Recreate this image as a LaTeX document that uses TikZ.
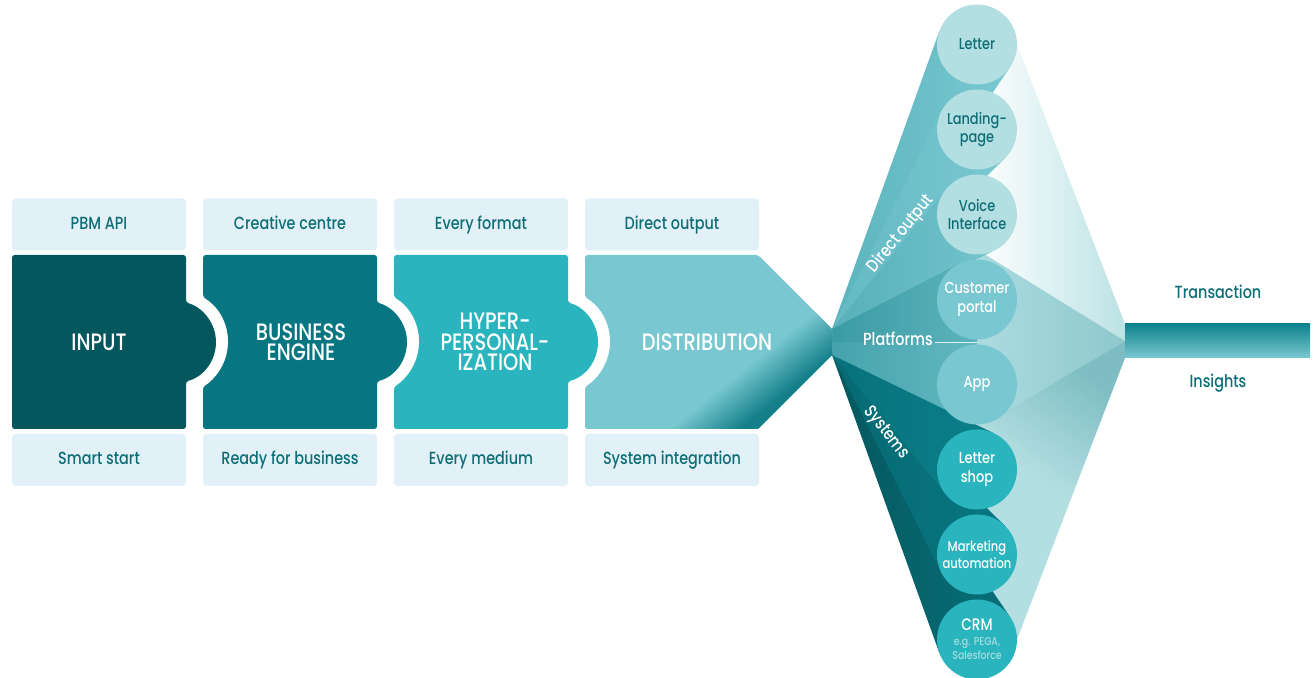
\documentclass[tikz,border=0pt]{standalone}
\usepackage{fontspec}
\setmainfont[FakeStretch=0.82,UprightFont={* Medium}]{Poppins}
\usetikzlibrary{backgrounds}

\definecolor{inputc}{HTML}{05575E}
\definecolor{enginec}{HTML}{077680}
\definecolor{hyperc}{HTML}{2AB5BE}
\definecolor{distc}{HTML}{79C8D1}
\definecolor{tagbg}{HTML}{E2F1F7}
\definecolor{tagtxt}{HTML}{0E6E76}
\definecolor{directc}{HTML}{B4DFE2}
\definecolor{platc}{HTML}{79C7D0}
\definecolor{sysc}{HTML}{2AB5BE}
\definecolor{notec}{HTML}{A6DCE0}

\tikzset{
  tag/.style={fill=tagbg,rounded corners=2pt,minimum width=34.8mm,minimum height=10.4mm,inner sep=0pt,text height=7.5pt,text depth=2.2pt,text=tagtxt,font=\fontsize{10}{12}\selectfont},
  title/.style={text=white,align=center,font=\fontsize{13.5}{11.5}\selectfont},
  outlet/.style={shape=circle,minimum size=16mm,inner sep=0pt,outer sep=0pt,align=center,font=\fontsize{9}{10.5}\selectfont},
  direct/.style={outlet,fill=directc,text=tagtxt},
  platform/.style={outlet,fill=platc,text=white},
  system/.style={outlet,fill=sysc,text=white},
  fanlbl/.style={text=white,inner sep=1pt,font=\fontsize{10}{12}\selectfont},
  sidelbl/.style={text=tagtxt,font=\fontsize{10}{12}\selectfont},
  cone/.style 2 args={left color=#1,right color=#2},
}

\begin{document}
\begin{tikzpicture}[x=0.2mm,y=0.2mm]
\useasboundingbox (0,0) rectangle (1314,678);

\fill[inputc,rounded corners=1.5pt] (12,249) -- (186,249) -- (186,296.5) arc[start angle=-74.4,end angle=74.4,radius=8.2mm] -- (186,423) -- (12,423) -- cycle;
\fill[enginec,rounded corners=1.5pt] (203,249) -- (377,249) -- (377,296.5) arc[start angle=-74.4,end angle=74.4,radius=8.2mm] -- (377,423) -- (203,423) -- (203,381) arc[start angle=58.1,end angle=-58.1,radius=10.6mm] -- cycle;
\fill[hyperc,rounded corners=1.5pt] (394,249) -- (568,249) -- (568,296.5) arc[start angle=-74.4,end angle=74.4,radius=8.2mm] -- (568,423) -- (394,423) -- (394,381) arc[start angle=58.1,end angle=-58.1,radius=10.6mm] -- cycle;
\fill[distc,rounded corners=1.5pt] (585,249) -- (758,249) -- (832,323) -- (832,349) -- (758,423) -- (585,423) -- (585,381) arc[start angle=58.1,end angle=-58.1,radius=10.6mm] -- cycle;
\begin{scope}
\clip (585,249) -- (758,249) -- (832,323) -- (832,349) -- (758,423) -- (585,423) -- cycle;
\fill[transform canvas={rotate around={38.7:(668,249)}},enginec!88!distc] (668,150) rectangle (970,205);
\shade[transform canvas={rotate around={38.7:(668,249)}},top color=distc,bottom color=enginec!88!distc] (668,204) rectangle (970,249);
\end{scope}

\node[title] (input) at (99,336) {INPUT};
\node[title] (engine) at (301,336) {BUSINESS\\ENGINE};
\node[title] (hyper) at (495,336) {HYPER-\\PERSONAL-\\IZATION};
\node[title] (distribution) at (707,336) {DISTRIBUTION};

\node[tag] (apitag) at (99,453.5) {PBM API};
\node[tag] (creativetag) at (290,453.5) {Creative centre};
\node[tag] (formattag) at (481,453.5) {Every format};
\node[tag] (outputtag) at (672,453.5) {Direct output};
\node[tag] (starttag) at (99,218) {Smart start};
\node[tag] (readytag) at (290,218) {Ready for business};
\node[tag] (mediumtag) at (481,218) {Every medium};
\node[tag] (integrationtag) at (672,218) {System integration};

\coordinate (apexD) at (832,349);
\coordinate (apexP) at (832,336);
\coordinate (apexS) at (832,323);
\coordinate (gap) at (977,336);
\coordinate (kite) at (1125,337);

\node[direct] (letter) at (977,633.5) {Letter};
\node[direct] (landing) at (977,548.5) {Landing-\\page};
\node[direct] (voice) at (977,463.5) {Voice\\Interface};
\node[platform] (portal) at (977,378.5) {Customer\\portal};
\node[platform] (app) at (977,293.5) {App};
\node[system] (lettershop) at (977,208.5) {Letter\\shop};
\node[system,font=\fontsize{8}{10}\selectfont] (marketing) at (977,123.5) {Marketing\\automation};
\node[system] (crm) at (977,38.5) {};
\node[text=white,font=\fontsize{9.5}{10}\selectfont] (crmname) at (977,53) {CRM};
\node[text=notec,align=center,font=\fontsize{6.5}{8.5}\selectfont] (crmnote) at (977,29.5) {e.g. PEGA,\\Salesforce};

\node[fanlbl,rotate=51] (directlbl) at (901,444) {Direct output};
\node[fanlbl] (platlbl) at (898,339) {Platforms};
\node[fanlbl,rotate=-52] (syslbl) at (886,245) {Systems};
\draw[white!75!platc,line width=0.5pt] (platlbl.east |- gap) -- (gap);

\shade[top color=enginec!80!hyperc,bottom color=distc] (1125,320) rectangle (1310,354);
\node[sidelbl] (transaction) at (1218,386) {Transaction};
\node[sidelbl] (insights) at (1218,295) {Insights};

\begin{scope}[on background layer]
\shade[left color=white,right color=directc!90!white] (letter.center) -- (letter.east) -- (1125,354) -- (kite) -- (voice.280) -- (voice.center) -- cycle;
\shade[left color=directc!85!distc,right color=directc!78!enginec] (voice.280) -- (kite) -- (app.280) -- (app.center) -- (voice.center) -- cycle;
\shade[top color=directc!68!enginec,bottom color=directc,middle color=directc,shading angle=-35] (app.280) -- (kite) -- (1125,320) -- (crm.east) -- (crm.center) -- (app.center) -- cycle;

\shade[cone={distc!75!enginec}{distc}] (apexD) -- (letter.160) -- (letter.center) -- (letter.326) -- cycle;
\shade[cone={distc!82!enginec}{distc}] (apexD) -- (landing.153) -- (landing.center) -- (landing.315) -- cycle;
\shade[cone={distc!70!enginec}{distc!95!enginec}] (apexD) -- (voice.141) -- (voice.center) -- (voice.296) -- cycle;
\shade[cone={distc!45!enginec}{distc!75!enginec}] (apexD) -- (portal.117) -- (portal.center) -- (gap) -- (apexP) -- cycle;
\shade[cone={distc!55!enginec}{distc!80!enginec}] (apexS) -- (app.243) -- (app.center) -- (gap) -- (apexP) -- cycle;
\shade[cone={inputc}{enginec!80!inputc}] (apexS) -- (crm.200) -- (crm.center) -- (crm.34) -- cycle;
\shade[cone={enginec!60!inputc}{enginec}] (apexS) -- (marketing.207) -- (marketing.center) -- (marketing.45) -- cycle;
\shade[cone={enginec!85!inputc}{enginec!85!hyperc}] (apexS) -- (lettershop.219) -- (lettershop.center) -- (lettershop.64) -- cycle;
\end{scope}
\end{tikzpicture}
\end{document}
